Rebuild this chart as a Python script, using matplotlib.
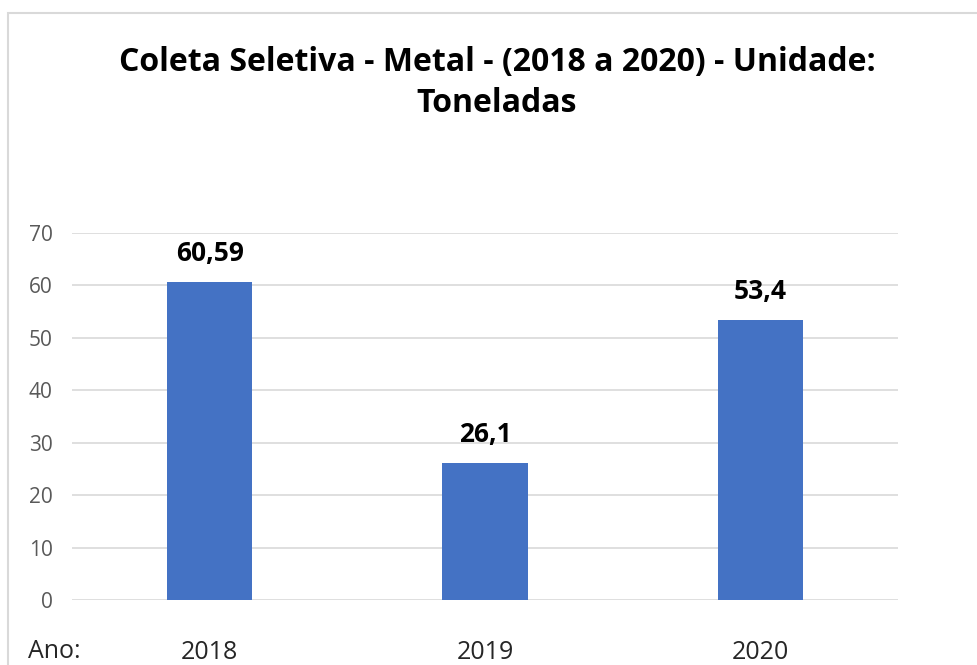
import matplotlib
matplotlib.use("Agg")
import matplotlib.pyplot as plt
from matplotlib.patches import Rectangle

# data
anos = ["2018", "2019", "2020"]
toneladas = [60.59, 26.1, 53.4]
rotulos = ["60,59", "26,1", "53,4"]

plt.rcParams['font.family'] = ['Open Sans', 'DejaVu Sans']

fig = plt.figure(figsize=(9.77, 6.65), dpi=100)
ax = fig.add_axes([0.0737, 0.0977, 0.8454, 0.5519])

# chart border (cut off at right and bottom like the screenshot)
fig.patches.append(Rectangle((8/977, -0.05), 1.2, 1 - 13/665 + 0.05,
                             transform=fig.transFigure, fill=False,
                             edgecolor='#d9d9d9', linewidth=1.5))

x = range(len(anos))
bars = ax.bar(x, toneladas, width=0.31, color='#4472C4', zorder=3)

for b, lab in zip(bars, rotulos):
    ax.annotate(lab, (b.get_x() + b.get_width()/2, b.get_height()),
                xytext=(0, 11), textcoords='offset points',
                ha='center', va='bottom', fontsize=19, fontweight='bold',
                color='black')

ax.set_xlim(-0.5, 2.5)
ax.set_ylim(0, 70)
ax.set_yticks(range(0, 71, 10))
ax.grid(axis='y', color='#d9d9d9', linewidth=1.2, zorder=0)
for s in ax.spines.values():
    s.set_visible(False)
ax.tick_params(axis='both', length=0)
ax.tick_params(axis='y', labelsize=15, labelcolor='#595959', pad=14)
ax.set_xticks(list(x))
ax.set_xticklabels(anos, fontsize=18, color='#262626')
ax.tick_params(axis='x', pad=29)

fig.text(28/977, 1 - 651/665, "Ano:", fontsize=18, color='#262626',
         ha='left', va='center')

fig.text(497/977, 1 - 83/665,
         "Coleta Seletiva - Metal - (2018 a 2020) - Unidade:\nToneladas",
         ha='center', va='center', fontsize=23, fontweight='bold',
         linespacing=1.35, color='black')

fig.savefig("out.png", dpi=100)
